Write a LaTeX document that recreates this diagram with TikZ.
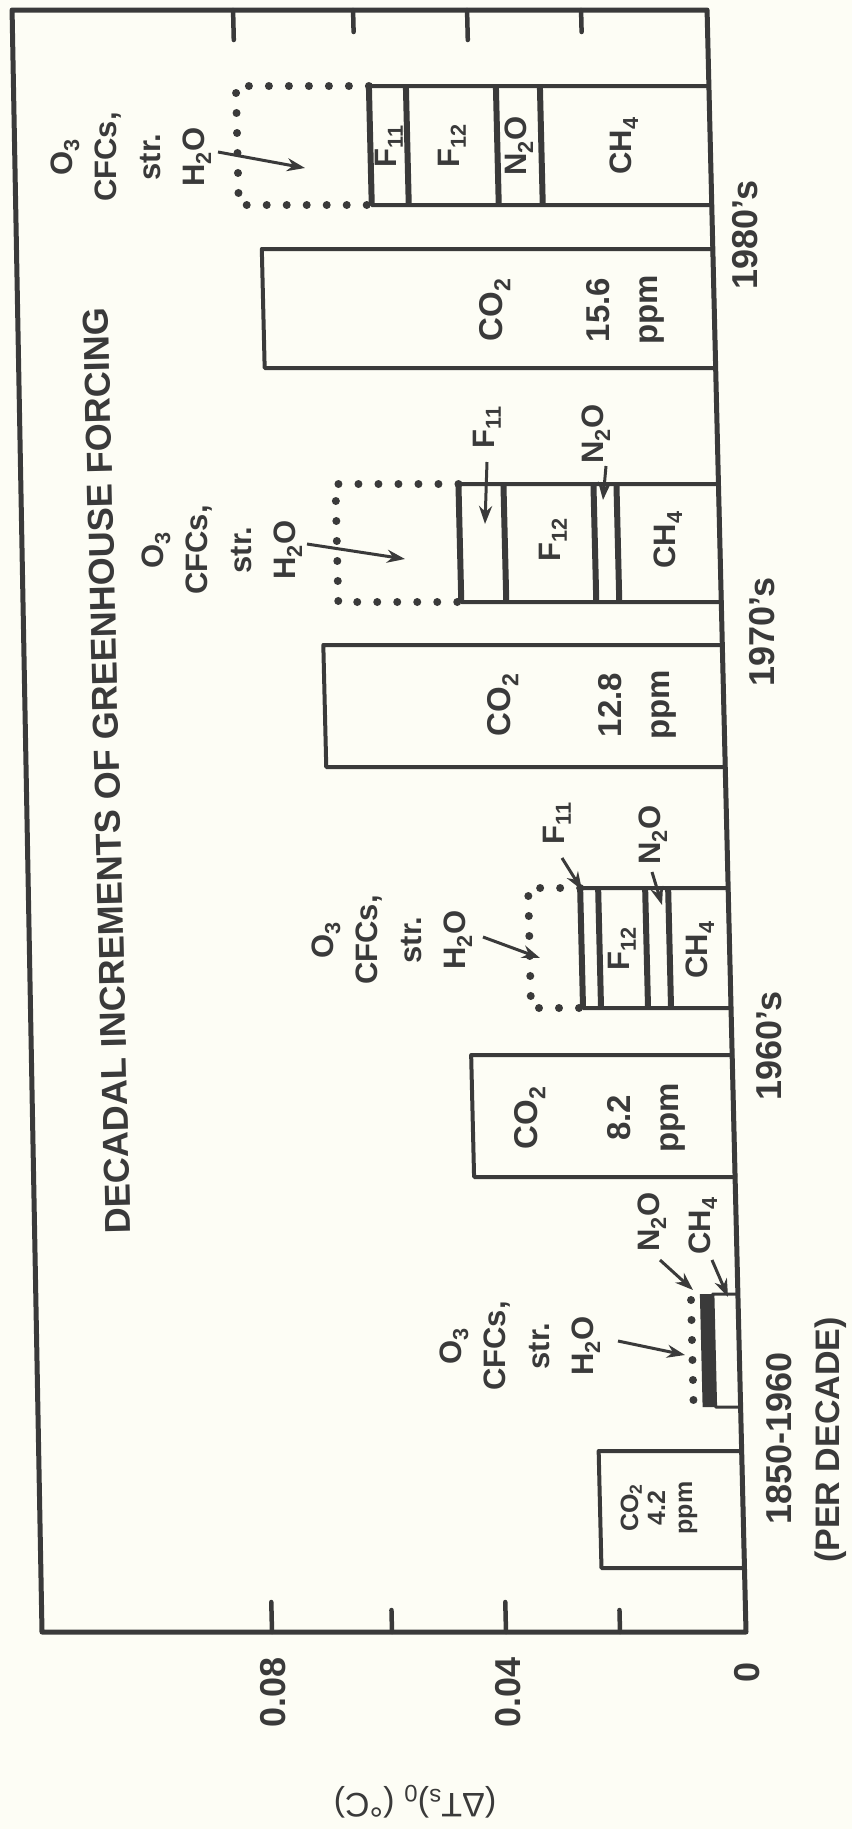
\documentclass[tikz,border=0pt]{standalone}
\usepackage{fontspec}
\setmainfont{Liberation Sans}
\usetikzlibrary{arrows.meta}
\definecolor{inkc}{HTML}{3A3A3A}
\definecolor{paper}{HTML}{FDFDF5}
\newcommand\lsub[1]{\textsubscript{#1}}
\begin{document}
\begin{tikzpicture}[x=1pt,y=-1pt,
  bar/.style={draw=inkc,line width=4pt,line join=round},
  divider/.style={draw=inkc,line width=6pt},
  dotline/.style={draw=inkc,line width=8pt,line cap=round,dash pattern=on 0pt off 20pt},
  frame/.style={draw=inkc,line width=5pt,line join=round},
  tickmark/.style={draw=inkc,line width=4.5pt,line cap=round},
  ptr/.style={draw=inkc,line width=3pt,-{Stealth[length=18pt,width=13pt]}},
  lab/.style={rotate=90,text=inkc,inner sep=0pt,align=center,font=\bfseries\fontsize{31}{44}\selectfont},
  co/.style={rotate=90,text=inkc,inner sep=0pt,align=center,font=\bfseries\fontsize{33}{48}\selectfont},
  small/.style={rotate=90,text=inkc,inner sep=0pt,align=center,font=\bfseries\fontsize{25}{27}\selectfont},
  cat/.style={rotate=90,text=inkc,inner sep=0pt,font=\bfseries\fontsize{36}{40}\selectfont},
  axnum/.style={rotate=90,text=inkc,inner sep=0pt,font=\bfseries\fontsize{36}{40}\selectfont}
]
\fill[paper] (0,0) rectangle (852,1829);
\useasboundingbox (0,0) rectangle (852,1829);

% ---- chart body, drawn with the scan's slight shear ----
\begin{scope}[cm={1,0,-0.024,1,(-39.17pt,0pt)}]
  \draw[frame] (51,10) -- (746,10) -- (746,1632) -- (42,1632) -- cycle;
  \foreach \tx/\tl in {272/30,392/22,506/30,620/22}{
    \draw[tickmark] (\tx,10) -- (\tx,10+\tl);
    \draw[tickmark] (\tx,1632) -- (\tx,1632-\tl);
  }
  % 1980's
  \draw[dotline] (406,86) -- (273,86) -- (273,205) -- (406,205);
  \draw[bar] (406,86) rectangle (746,205);
  \foreach \dx in {406,443,533,577} \draw[divider] (\dx,86) -- (\dx,205);
  \draw[bar] (295,249) rectangle (746,368);
  % 1970's
  \draw[dotline] (486,484) -- (363,484) -- (363,602) -- (486,602);
  \draw[bar] (486,484) rectangle (746,602);
  \foreach \dx in {486,531,621,644} \draw[divider] (\dx,484) -- (\dx,602);
  \draw[bar] (347,645) rectangle (746,767);
  % 1960's
  \draw[dotline] (598,888) -- (546,888) -- (546,1008) -- (598,1008);
  \draw[bar] (598,888) rectangle (746,1008);
  \foreach \dx in {598,616,663,686} \draw[divider] (\dx,888) -- (\dx,1008);
  \draw[bar] (485,1055) rectangle (746,1177);
  % 1850-1960
  \draw[dotline] (699,1300) -- (699,1407);
  \fill[inkc] (708,1294) rectangle (721,1407);
  \draw[bar,line width=3pt] (721,1294) rectangle (746,1407);
  \draw[bar] (603,1451) rectangle (746,1568);
\end{scope}

% ---- title ----
\node[rotate=91.4,text=inkc,inner sep=0pt,font=\bfseries\fontsize{36}{40}\selectfont] (title) at (107,771)
  {DECADAL INCREMENTS OF GREENHOUSE FORCING};

% ---- category labels ----
\node[cat] (c80) at (745,235) {1980's};
\node[cat] (c70) at (762,632) {1970's};
\node[cat] (c60) at (769,1046) {1960's};
\node[cat] (c50) at (779,1438) {1850-1960};
\node[cat,font=\bfseries\fontsize{34}{40}\selectfont] (pd) at (831,1440) {(PER DECADE)};

% ---- value axis ----
\node[axnum] (v8) at (273,1692) {0.08};
\node[axnum] (v4) at (508,1692) {0.04};
\node[axnum] (v0) at (747,1672) {0};
\node[rotate=180,text=inkc,inner sep=0pt,font=\fontsize{34}{40}\selectfont] (ylab) at (415,1802)
  {(ΔT\lsub{s})\lsub{0} (°C)};

% ---- other-gas groups ----
\node[lab] (g80) at (131,157) {O\lsub{3}\\CFCs,\\str.\\H\lsub{2}O};
\node[lab] (g70) at (222,550) {O\lsub{3}\\CFCs,\\str.\\H\lsub{2}O};
\node[lab] (g60) at (392,940) {O\lsub{3}\\CFCs,\\str.\\H\lsub{2}O};
\node[lab] (g50) at (520,1346) {O\lsub{3}\\CFCs,\\str.\\H\lsub{2}O};

% ---- stack labels ----
\node[lab] (f11a) at (389,146) {F\lsub{11}};
\node[lab] (f12a) at (452,146) {F\lsub{12}};
\node[lab] (n2oa) at (519,146) {N\lsub{2}O};
\node[lab] (ch4a) at (624,146) {CH\lsub{4}};

\node[lab] (f11b) at (487,427) {F\lsub{11}};
\node[lab] (n2ob) at (596,434) {N\lsub{2}O};
\node[lab] (f12b) at (553,540) {F\lsub{12}};
\node[lab] (ch4b) at (668,540) {CH\lsub{4}};

\node[lab] (f11c) at (557,823) {F\lsub{11}};
\node[lab] (n2oc) at (653,835) {N\lsub{2}O};
\node[lab] (f12c) at (622,949) {F\lsub{12}};
\node[lab] (ch4c) at (700,950) {CH\lsub{4}};

\node[lab] (n2od) at (652,1222) {N\lsub{2}O};
\node[lab] (ch4d) at (703,1226) {CH\lsub{4}};

% ---- CO2 labels ----
\node[co] (co80) at (495,310) {CO\lsub{2}};
\node[co] (pp80) at (625,310) {15.6\\ppm};
\node[co] (co70) at (503,705) {CO\lsub{2}};
\node[co] (pp70) at (637,705) {12.8\\ppm};
\node[co] (co60) at (530,1118) {CO\lsub{2}};
\node[co] (pp60) at (646,1118) {8.2\\ppm};
\node[small] (co50) at (659,1508) {CO\lsub{2}\\4.2\\ppm};

% ---- arrows ----
\coordinate (a80s) at (218,152); \coordinate (a80e) at (305,168);
\coordinate (a70s) at (307,544); \coordinate (a70e) at (405,559);
\coordinate (f70s) at (487,462); \coordinate (f70e) at (485,524);
\coordinate (n70s) at (606,466); \coordinate (n70e) at (603,500);
\coordinate (a60s) at (483,937); \coordinate (a60e) at (540,958);
\coordinate (f60s) at (562,858); \coordinate (f60e) at (582,890);
\coordinate (n60s) at (652,872); \coordinate (n60e) at (662,905);
\coordinate (a50s) at (618,1341); \coordinate (a50e) at (685,1355);
\coordinate (n50s) at (660,1260); \coordinate (n50e) at (693,1290);
\coordinate (m50s) at (712,1260); \coordinate (m50e) at (728,1297);
\foreach \p in {a80,a70,f70,n70,a60,f60,n60,a50,n50,m50}
  \draw[ptr] (\p s) -- (\p e);
\end{tikzpicture}
\end{document}
